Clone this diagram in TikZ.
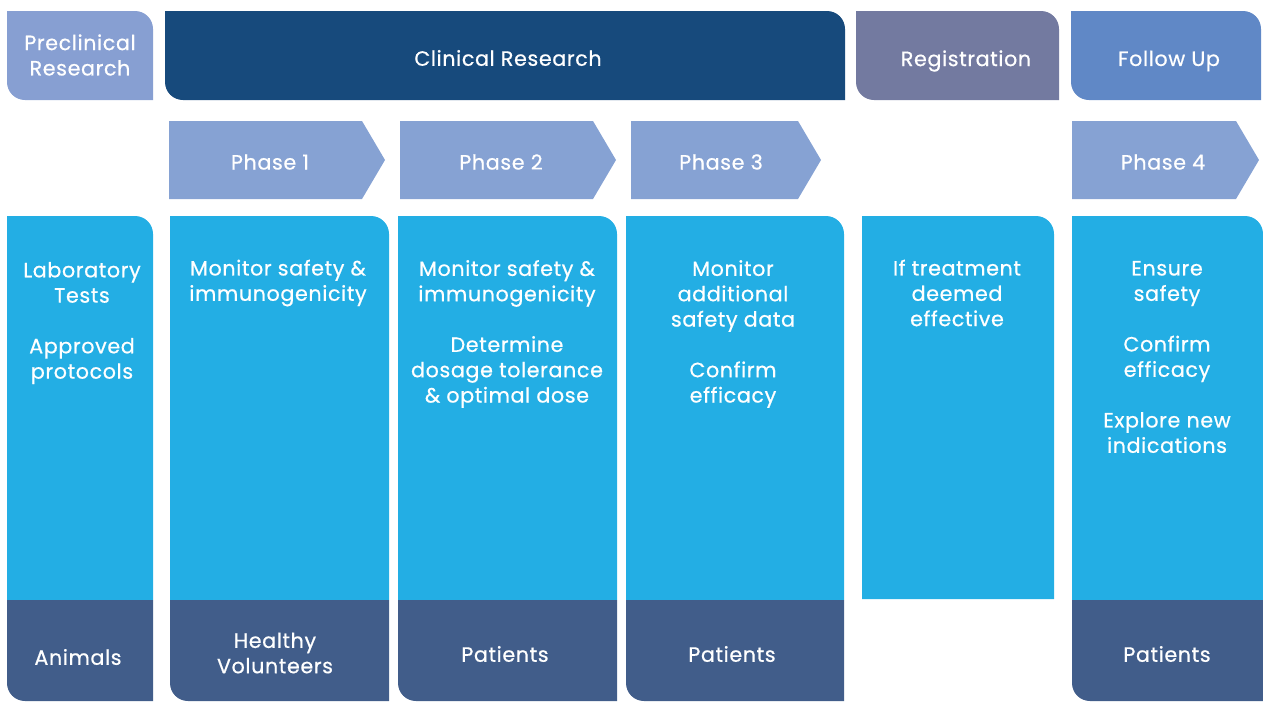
\documentclass[tikz,border=0pt]{standalone}
\usepackage{fontspec}
\setmainfont{Poppins}
\newfontfamily\lblfont{Poppins}[FakeBold=0.6,LetterSpace=3]
\usepackage{tikz}

\definecolor{preclin}{HTML}{879FD2}
\definecolor{clinres}{HTML}{174A7C}
\definecolor{regist}{HTML}{737AA0}
\definecolor{follow}{HTML}{6088C6}
\definecolor{phasecol}{HTML}{86A2D3}
\definecolor{colbody}{HTML}{23AEE4}
\definecolor{colfoot}{HTML}{415D8A}

\tikzset{
  lbl/.style={text=white, inner sep=0.75pt, align=center, font=\lblfont\fontsize{15.5}{19}\selectfont},
}

\begin{document}
\begin{tikzpicture}[x=0.75pt,y=0.75pt,yscale=-1,xscale=1]
\useasboundingbox (0,0) rectangle (1263,701);

%Header boxes
\fill [preclin] (7,11) -- (135,11) .. controls (145,11) and (153,19) .. (153,29) -- (153,100) -- (25,100) .. controls (15,100) and (7,92) .. (7,82) -- cycle ;
\fill [clinres] (165,11) -- (827,11) .. controls (837,11) and (845,19) .. (845,29) -- (845,100) -- (183,100) .. controls (173,100) and (165,92) .. (165,82) -- cycle ;
\fill [regist] (856,11) -- (1041,11) .. controls (1051,11) and (1059,19) .. (1059,29) -- (1059,100) -- (874,100) .. controls (864,100) and (856,92) .. (856,82) -- cycle ;
\fill [follow] (1071,11) -- (1243,11) .. controls (1253,11) and (1261,19) .. (1261,29) -- (1261,100) -- (1089,100) .. controls (1079,100) and (1071,92) .. (1071,82) -- cycle ;

% Text Node
\draw (80,55) node (hpre) [lbl] {Preclinical\\Research};
\draw (508,58) node (hclin) [lbl] {Clinical Research};
\draw (966,61) node (hreg) [lbl] {Registration};
\draw (1169,61) node (hfol) [lbl] {Follow Up};

%Phase arrows
\fill [phasecol] (169,121) -- (362,121) -- (385,160) -- (362,199) -- (169,199) -- cycle ;
\fill [phasecol] (400,121) -- (593,121) -- (616,160) -- (593,199) -- (400,199) -- cycle ;
\fill [phasecol] (631,121) -- (798,121) -- (821,160) -- (798,199) -- (631,199) -- cycle ;
\fill [phasecol] (1072,121) -- (1236,121) -- (1259,160) -- (1236,199) -- (1072,199) -- cycle ;

% Text Node
\draw (270,162) node (ph1) [lbl] {Phase 1};
\draw (501,162) node (ph2) [lbl] {Phase 2};
\draw (721,162) node (ph3) [lbl] {Phase 3};
\draw (1163,162) node (ph4) [lbl] {Phase 4};

%Column bodies
\fill [colbody] (7,600) -- (7,216) -- (135,216) .. controls (145,216) and (153,224) .. (153,234) -- (153,600) -- cycle ;
\fill [colbody] (170,600) -- (170,216) -- (371,216) .. controls (381,216) and (389,224) .. (389,234) -- (389,600) -- cycle ;
\fill [colbody] (398,600) -- (398,216) -- (599,216) .. controls (609,216) and (617,224) .. (617,234) -- (617,600) -- cycle ;
\fill [colbody] (626,600) -- (626,216) -- (826,216) .. controls (836,216) and (844,224) .. (844,234) -- (844,600) -- cycle ;
\fill [colbody] (862,599) -- (862,216) -- (1036,216) .. controls (1046,216) and (1054,224) .. (1054,234) -- (1054,599) -- cycle ;
\fill [colbody] (1072,600) -- (1072,216) -- (1245,216) .. controls (1255,216) and (1263,224) .. (1263,234) -- (1263,600) -- cycle ;

%Column feet
\fill [colfoot] (7,600) -- (153,600) -- (153,701) -- (25,701) .. controls (15,701) and (7,693) .. (7,683) -- cycle ;
\fill [colfoot] (170,600) -- (389,600) -- (389,701) -- (188,701) .. controls (178,701) and (170,693) .. (170,683) -- cycle ;
\fill [colfoot] (398,600) -- (617,600) -- (617,701) -- (416,701) .. controls (406,701) and (398,693) .. (398,683) -- cycle ;
\fill [colfoot] (626,600) -- (844,600) -- (844,701) -- (644,701) .. controls (634,701) and (626,693) .. (626,683) -- cycle ;
\fill [colfoot] (1072,600) -- (1263,600) -- (1263,701) -- (1090,701) .. controls (1080,701) and (1072,693) .. (1072,683) -- cycle ;

% Text Node
\draw (82,323) node (pretxt) [lbl] {Laboratory\\Tests\\[19pt]Approved\\protocols};
\draw (278,283) node (p1txt) [lbl] {Monitor safety \&\\immunogenicity};
\draw (507,334) node (p2txt) [lbl] {Monitor safety \&\\immunogenicity\\[19pt]Determine\\dosage tolerance\\\& optimal dose};
\draw (733,334) node (p3txt) [lbl] {Monitor\\additional\\safety data\\[19pt]Confirm\\efficacy};
\draw (957,293) node (regtxt) [lbl] {If treatment\\deemed\\effective};
\draw (1167,357) node (p4txt) [lbl] {Ensure\\safety\\[19pt]Confirm\\efficacy\\[19pt]Explore new\\indications};

% Text Node
\draw (78,657) node (prefoot) [lbl] {Animals};
\draw (275,653) node (p1foot) [lbl] {Healthy\\Volunteers};
\draw (505,654) node (p2foot) [lbl] {Patients};
\draw (732,654) node (p3foot) [lbl] {Patients};
\draw (1167,654) node (p4foot) [lbl] {Patients};

\end{tikzpicture}
\end{document}
